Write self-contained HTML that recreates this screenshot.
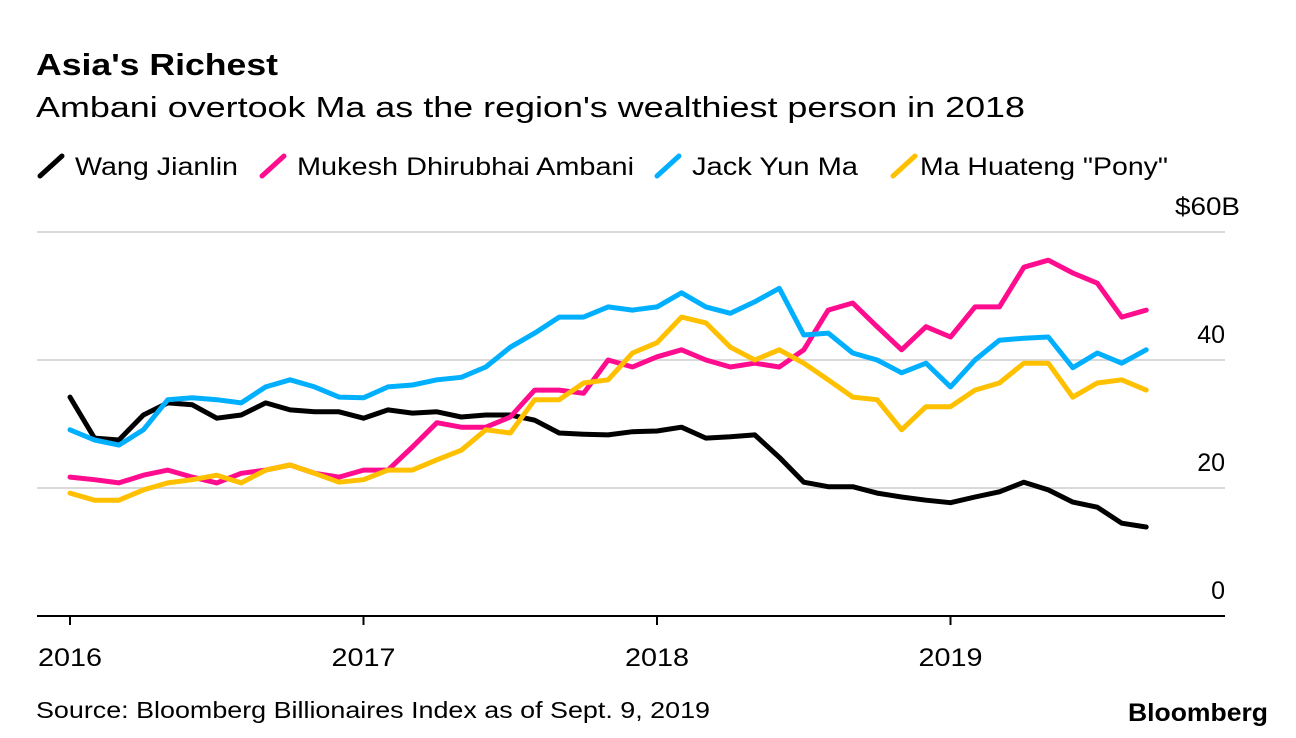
<!DOCTYPE html>
<html><head><meta charset="utf-8">
<style>
html,body{margin:0;padding:0;background:#fff;width:1296px;height:738px;overflow:hidden;font-family:"Liberation Sans",Arial,sans-serif;}
svg{display:block}
</style></head>
<body>
<svg id="chart" width="1296" height="738" viewBox="0 0 1296 738" xmlns="http://www.w3.org/2000/svg">
<text x="36" y="75" font-size="31" font-weight="bold" fill="#000" font-family="Liberation Sans, sans-serif" textLength="242" lengthAdjust="spacingAndGlyphs">Asia's Richest</text>
<text x="36" y="117" font-size="29" fill="#000" font-family="Liberation Sans, sans-serif" textLength="989" lengthAdjust="spacingAndGlyphs">Ambani overtook Ma as the region's wealthiest person in 2018</text>
<g id="legend" font-size="25" font-family="Liberation Sans, sans-serif"></g>
<g id="grid"></g>
<g id="series"></g>
<g id="xaxis"></g>
<text x="36" y="718" font-size="23" fill="#000" font-family="Liberation Sans, sans-serif" textLength="674" lengthAdjust="spacingAndGlyphs">Source: Bloomberg Billionaires Index as of Sept. 9, 2019</text>
<text x="1128" y="721" font-size="25" font-weight="bold" fill="#000" font-family="Liberation Sans, sans-serif" textLength="140" lengthAdjust="spacingAndGlyphs">Bloomberg</text>
</svg>
<script>
const seriesNames = ["Wang Jianlin","Mukesh Dhirubhai Ambani","Jack Yun Ma","Ma Huateng \"Pony\""];
const seriesColors = ["#000000","#ff0d8e","#00b0ff","#ffc000"];
const startYear = 2016;
const yTicks = [0,20,40,60];
const yTickLabels = ["0","20","40","$60B"];
const xTicks = [2016,2017,2018,2019];
const wang = [34.2,27.8,27.5,31.4,33.3,33.0,30.9,31.4,33.3,32.2,31.9,31.9,30.9,32.2,31.7,31.9,31.1,31.4,31.4,30.6,28.6,28.4,28.3,28.8,28.9,29.5,27.8,28.0,28.3,24.8,20.9,20.2,20.2,19.2,18.6,18.1,17.7,18.6,19.4,20.9,19.7,17.8,17.0,14.5,13.9];
const ambani = [21.7,21.3,20.8,22.0,22.8,21.7,20.8,22.3,22.8,23.6,22.3,21.7,22.8,22.8,26.4,30.2,29.5,29.5,31.1,35.3,35.3,34.8,40.0,38.9,40.5,41.6,40.0,38.9,39.5,38.9,41.6,47.8,48.9,45.2,41.6,45.2,43.6,48.3,48.3,54.5,55.6,53.6,52.0,46.7,47.8];
const jackma = [29.1,27.5,26.7,29.1,33.8,34.1,33.8,33.3,35.8,36.9,35.8,34.2,34.1,35.8,36.1,36.9,37.3,38.9,42.0,44.2,46.7,46.7,48.3,47.8,48.3,50.5,48.3,47.3,49.1,51.2,43.9,44.2,41.1,40.0,38.0,39.5,35.8,40.0,43.1,43.4,43.6,38.8,41.1,39.5,41.6];
const pony = [19.2,18.1,18.1,19.7,20.8,21.3,22.0,20.8,22.8,23.6,22.3,20.9,21.3,22.8,22.8,24.4,25.9,29.1,28.6,33.8,33.8,36.4,36.9,41.1,42.7,46.7,45.8,42.0,40.0,41.6,39.5,36.9,34.2,33.8,29.1,32.7,32.7,35.3,36.4,39.5,39.5,34.2,36.4,36.9,35.3];
const allSeries = [wang, ambani, jackma, pony];

const NS = "http://www.w3.org/2000/svg";
const plotL = 37, plotR = 1225, x0 = 70, pxPerYear = 293.5, yZero = 616, pxPerUnit = 6.4;
function xScale(yr){ return x0 + (yr - startYear) * pxPerYear; }
function yScale(v){ return yZero - v * pxPerUnit; }
function mk(tag, attrs){ const e = document.createElementNS(NS, tag); for (const k in attrs) e.setAttribute(k, attrs[k]); return e; }

const grid = document.getElementById('grid');
yTicks.forEach((t, i) => {
  if (t !== 0) {
    const l = mk('line', {x1: plotL, x2: plotR, y1: yScale(t), y2: yScale(t), stroke: '#d9d9d9', 'stroke-width': 2});
    
    
    grid.appendChild(l);
  }
  const attrs = {x: t === 60 ? 1175 : 1225, y: yScale(t) - 17, 'text-anchor': t === 60 ? 'start' : 'end', 'font-size': 25, fill: '#000', 'font-family': 'Liberation Sans, sans-serif'};
  if (t === 60) { attrs.textLength = 65; attrs.lengthAdjust = 'spacingAndGlyphs'; }
  const tx = mk('text', attrs);
  tx.textContent = yTickLabels[i];
  
  
  grid.appendChild(tx);
});

const sg = document.getElementById('series');
allSeries.forEach((arr, si) => {
  const pts = arr.map((v, k) => xScale(startYear + k / 12).toFixed(1) + ',' + yScale(v).toFixed(1)).join(' ');
  const p = mk('polyline', {points: pts, fill: 'none', stroke: seriesColors[si], 'stroke-width': 5, 'stroke-linejoin': 'round', 'stroke-linecap': 'round'});
  
  
  sg.appendChild(p);
});

const xa = document.getElementById('xaxis');
const base = mk('line', {x1: plotL, x2: plotR, y1: yZero, y2: yZero, stroke: '#000', 'stroke-width': 2});


xa.appendChild(base);
xTicks.forEach(yr => {
  const tk = mk('line', {x1: xScale(yr), x2: xScale(yr), y1: yZero, y2: yZero + 9, stroke: '#000', 'stroke-width': 2});
  
  
  xa.appendChild(tk);
  const tl = mk('text', {x: xScale(yr) - 32, y: 666, 'font-size': 25, fill: '#000', 'font-family': 'Liberation Sans, sans-serif', textLength: 64, lengthAdjust: 'spacingAndGlyphs'});
  tl.textContent = yr;
  
  
  xa.appendChild(tl);
});

const lg = document.getElementById('legend');
const legendX = [40, 262, 657, 893];
const legendTextX = [75, 297, 692, 920];
const legendTextW = [163, 337, 166, 248];
seriesNames.forEach((n, i) => {
  const g = mk('g', {});
  
  
  g.appendChild(mk('line', {x1: legendX[i], y1: 176, x2: legendX[i] + 22, y2: 156, stroke: seriesColors[i], 'stroke-width': 5, 'stroke-linecap': 'round'}));
  const t = mk('text', {x: legendTextX[i], y: 175, fill: '#000', textLength: legendTextW[i], lengthAdjust: 'spacingAndGlyphs'});
  t.textContent = n;
  g.appendChild(t);
  lg.appendChild(g);
});
</script>
</body></html>
